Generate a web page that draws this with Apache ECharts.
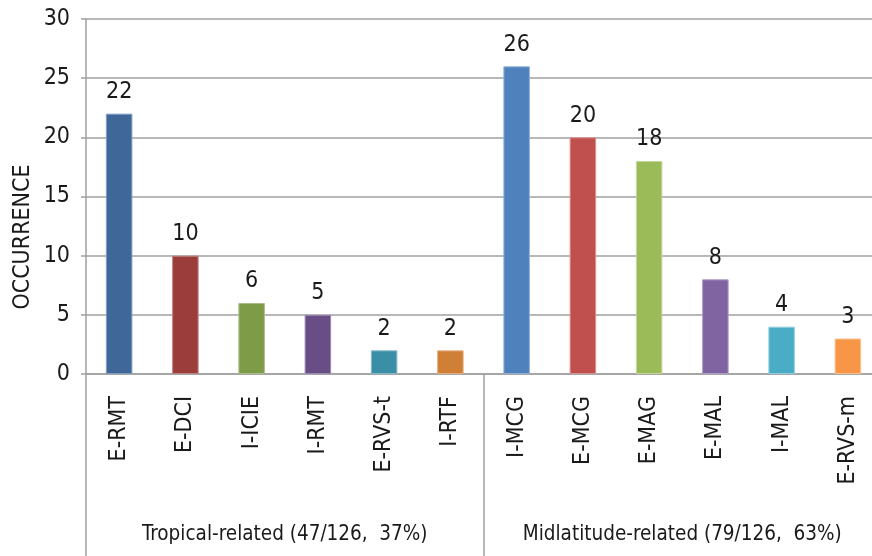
<!DOCTYPE html>
<html>
<head>
<meta charset="utf-8">
<script src="https://cdn.jsdelivr.net/npm/echarts@6/dist/echarts.min.js"></script>
<style>
  html, body { margin: 0; padding: 0; background: #fff; }
  #chart { width: 872px; height: 556px; }
</style>
</head>
<body>
<div id="chart"></div>
<script>
// Event types and their occurrence counts
const categories = ['E-RMT', 'E-DCI', 'I-ICIE', 'I-RMT', 'E-RVS-t', 'I-RTF',
                    'I-MCG', 'E-MCG', 'E-MAG', 'E-MAL', 'I-MAL', 'E-RVS-m'];
const occurrences = [22, 10, 6, 5, 2, 2, 26, 20, 18, 8, 4, 3];
const groups = ['Tropical-related (47/126,  37%)', 'Midlatitude-related (79/126,  63%)'];
const yTicks = { min: 0, max: 30, interval: 5 };
const yTitle = 'OCCURRENCE';

const barColors = ['#3F6899', '#9B3D3B', '#7E9B48', '#684E85', '#3A8EA5', '#D07F37',
                   '#4F81BD', '#C0504D', '#9BBB59', '#8064A2', '#4BACC6', '#F79646'];
const barBorders = ['#7C9CC2', '#C08280', '#A9BF85', '#9A88B0', '#80BACB', '#E6AE80',
                    '#90B0D8', '#DA928F', '#C3D89A', '#AE9BC7', '#90CFE0', '#FBC08E'];

const FONT = "'Liberation Sans Narrow', 'DejaVu Sans Condensed', sans-serif";
const TEXT = '#1a1a1a';
const GRAY = '#a0a0a0';

const chart = echarts.init(document.getElementById('chart'), null, { renderer: 'canvas' });

chart.setOption({
  animation: false,
  backgroundColor: '#ffffff',
  textStyle: { fontFamily: FONT },
  // the plot area runs a little past the right edge of the canvas
  grid: { left: 86, right: -9, top: 19, bottom: 182, containLabel: false, outerBoundsMode: 'none' },
  xAxis: [
    {
      type: 'category',
      data: categories,
      position: 'bottom',
      axisLine: { show: true, lineStyle: { color: GRAY, width: 1.5 } },
      axisTick: { show: false },
      axisLabel: {
        interval: 0, rotate: 90, margin: 22,
        fontFamily: FONT, fontSize: 23, color: TEXT
      }
    },
    {
      type: 'category',
      data: groups,
      position: 'bottom',
      gridIndex: 0,
      axisLine: { show: false },
      axisTick: { show: true, interval: 0, length: 185, lineStyle: { color: GRAY, width: 1.5 } },
      axisLabel: {
        interval: 0, margin: 150,
        fontFamily: FONT, fontSize: 20.5, color: TEXT
      }
    }
  ],
  yAxis: {
    type: 'value',
    min: yTicks.min, max: yTicks.max, interval: yTicks.interval,
    axisLine: { show: true, lineStyle: { color: GRAY, width: 1.5 } },
    axisTick: { show: true, length: 5, lineStyle: { color: GRAY, width: 1.5 } },
    splitLine: { show: true, lineStyle: { color: GRAY, width: 1.5 } },
    axisLabel: { margin: 16, fontFamily: FONT, fontSize: 23, color: TEXT }
  },
  graphic: [
    {
      type: 'text',
      x: 23, y: 237,
      rotation: Math.PI / 2,
      style: {
        text: yTitle,
        fontFamily: FONT, fontSize: 23, fill: TEXT,
        textAlign: 'center', textVerticalAlign: 'middle'
      }
    }
  ],
  series: [
    {
      type: 'bar',
      xAxisIndex: 0,
      barWidth: '40%',
      data: occurrences.map((v, i) => ({
        value: v,
        itemStyle: { color: barColors[i], borderColor: barBorders[i], borderWidth: 1 }
      })),
      label: {
        show: true, position: 'top', distance: 10,
        fontFamily: FONT, fontSize: 23, color: TEXT
      }
    }
  ]
});
</script>
</body>
</html>
